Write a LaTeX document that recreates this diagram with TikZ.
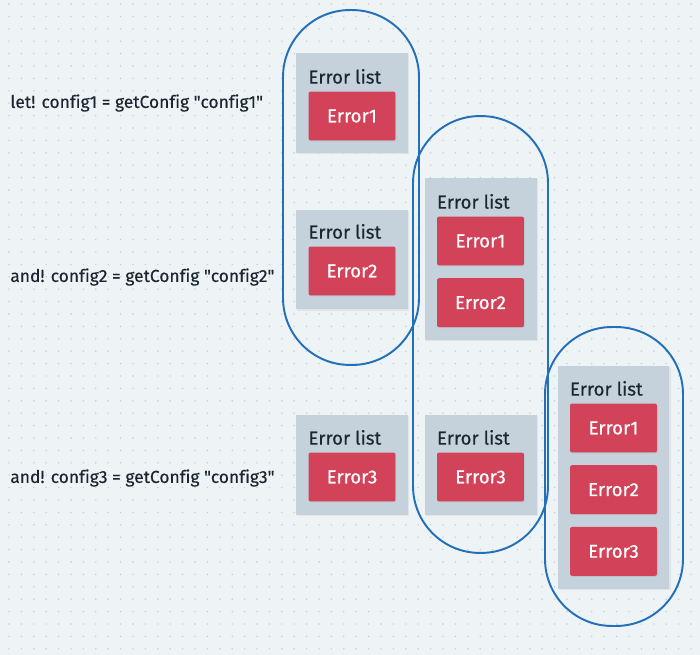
\documentclass[tikz,border=0pt]{standalone}
\usepackage{fontspec}
\setmainfont{Fira Sans}[Ligatures=NoCommon]
\newfontfamily\medfont{Fira Sans}[Ligatures=NoCommon,FakeBold=0.6]
\newfontfamily\semifont{Fira Sans}[Ligatures=NoCommon,FakeBold=0.3]
\usetikzlibrary{positioning,shadows}
\definecolor{canvasbg}{HTML}{EEF3F6}
\definecolor{dotgray}{HTML}{C3CBD1}
\definecolor{panelgray}{HTML}{C6D2DB}
\definecolor{errred}{HTML}{D2435A}
\definecolor{loopblue}{HTML}{2370BA}
\definecolor{inktext}{HTML}{1B2631}

\begin{document}
\begin{tikzpicture}[x=0.02cm, y=-0.02cm, every node/.style={font=\fontsize{10.3}{12}\selectfont}]
    \tikzset{panel/.style={fill=panelgray,minimum width=2.24cm,inner sep=0pt,drop shadow={opacity=0.12,shadow xshift=0.6pt,shadow yshift=-0.6pt}},
      errbox/.style={fill=errred,text=white,font=\medfont\fontsize{10.6}{12}\selectfont,rounded corners=1.2pt,minimum width=1.74cm,minimum height=0.98cm,inner sep=0pt,drop shadow={opacity=0.18,shadow xshift=0.5pt,shadow yshift=-0.5pt}},
      listtitle/.style={text=inktext,font=\semifont\fontsize{10.6}{12}\selectfont,inner sep=0pt},
      codeline/.style={text=inktext,font=\semifont\fontsize{9.9}{12}\selectfont,inner sep=0pt,anchor=west},
      loop/.style={draw=loopblue,line width=1.1pt,rounded corners=1.34cm,inner sep=0pt}}
    \useasboundingbox (0,0) rectangle (700,655);
    \fill[canvasbg] (0,0) rectangle (700,655);
    \foreach \i in {0,...,56}
      \foreach \j in {0,...,53}
        \fill[dotgray] (9+12.4*\i,4+12.4*\j) circle (0.45pt);

    \node[codeline] (c1) at (10,103) {let! config1 = getConfig \symbol{34}config1\symbol{34}};
    \node[codeline] (c2) at (10,277) {and! config2 = getConfig \symbol{34}config2\symbol{34}};
    \node[codeline] (c3) at (10,478) {and! config3 = getConfig \symbol{34}config3\symbol{34}};

    \node[panel,minimum height=2cm] (p1) at (352,103) {};
    \node[panel,minimum height=2cm] (p2) at (352,259.5) {};
    \node[panel,minimum height=2cm] (p3) at (352,465) {};
    \node[panel,minimum height=3.24cm] (q1) at (481,259) {};
    \node[panel,minimum height=2cm] (q3) at (481,465) {};
    \node[panel,minimum height=4.46cm] (r1) at (613.5,477.5) {};

    \node[errbox] (p1e1) at (352,116) {Error1};
    \node[errbox] (p2e2) at (352,271) {Error2};
    \node[errbox] (p3e3) at (352,477) {Error3};
    \node[errbox] (q1e1) at (480.5,241) {Error1};
    \node[errbox,below=0.24cm of q1e1] (q1e2) {Error2};
    \node[errbox] (q3e3) at (480.5,477) {Error3};
    \node[errbox] (r1e1) at (613.5,428) {Error1};
    \node[errbox,below=0.24cm of r1e1] (r1e2) {Error2};
    \node[errbox,below=0.24cm of r1e2] (r1e3) {Error3};

    \node[listtitle,above right=0.14cm and 0cm of p1e1.north west] (p1t) {Error list};
    \node[listtitle,above right=0.14cm and 0cm of p2e2.north west] (p2t) {Error list};
    \node[listtitle,above right=0.14cm and 0cm of p3e3.north west] (p3t) {Error list};
    \node[listtitle,above right=0.14cm and 0cm of q1e1.north west] (q1t) {Error list};
    \node[listtitle,above right=0.14cm and 0cm of q3e3.north west] (q3t) {Error list};
    \node[listtitle,above right=0.14cm and 0cm of r1e1.north west] (r1t) {Error list};

    \node[loop,minimum width=2.72cm,minimum height=7.1cm] (o1) at (351,187.5) {};
    \node[loop,minimum width=2.7cm,minimum height=8.74cm] (o2) at (480.5,334.5) {};
    \node[loop,minimum width=2.76cm,minimum height=5.98cm] (o3) at (614,476.5) {};
  \end{tikzpicture}
\end{document}
